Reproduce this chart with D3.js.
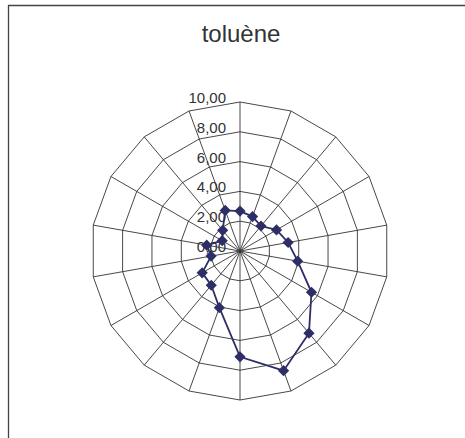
<!DOCTYPE html>
<html>
<head>
<meta charset="utf-8">
<script src="https://cdn.jsdelivr.net/npm/d3@7"></script>
<style>
  html, body { margin: 0; padding: 0; background: #fff; }
  svg { display: block; }
</style>
</head>
<body>
<svg id="chart" width="465" height="438"></svg>
<script>
// Toluene readings for 18 sampling directions, clockwise from the top
const categories = ["1","2","3","4","5","6","7","8","9","10","11","12","13","14","15","16","17","18"];
const toluene = [2.68, 2.46, 2.19, 2.83, 3.28, 3.93, 5.54, 7.20, 8.55, 7.10, 4.05, 3.00, 2.93, 1.97, 2.27, 1.38, 1.81, 2.90];
const tickValues = [0, 2, 4, 6, 8, 10];
const title = "toluène";

const svg = d3.select("#chart");
const W = 465, H = 438;
const cx = 240, cy = 251, R = 149;

// chart frame
svg.append("path")
  .attr("d", `M8.5,${H} L8.5,5.5 L${W},5.5`)
  .attr("fill", "none")
  .attr("stroke", "#444")
  .attr("stroke-width", 1.3);

svg.append("text")
  .attr("x", cx + 1).attr("y", 42)
  .attr("text-anchor", "middle")
  .attr("font-family", "Liberation Sans, Arial, sans-serif")
  .attr("font-size", 24)
  .attr("fill", "#333")
  .text(title);

const r = d3.scaleLinear().domain([0, 10]).range([0, R]);
const angle = d3.scaleLinear().domain([0, categories.length]).range([0, 2 * Math.PI]);

const g = svg.append("g").attr("transform", `translate(${cx},${cy})`);

const pt = (i, v) => [r(v) * Math.sin(angle(i)), -r(v) * Math.cos(angle(i))];

// polygonal rings
const ringLine = d3.line();
tickValues.filter(t => t > 0).forEach(t => {
  g.append("path")
    .attr("d", ringLine(categories.map((c, i) => pt(i, t))) + "Z")
    .attr("fill", "none")
    .attr("stroke", "#333")
    .attr("stroke-width", 0.9);
});

// spokes
g.selectAll("line.spoke")
  .data(categories)
  .join("line")
  .attr("class", "spoke")
  .attr("x1", 0).attr("y1", 0)
  .attr("x2", (c, i) => pt(i, 10)[0])
  .attr("y2", (c, i) => pt(i, 10)[1])
  .attr("stroke", "#333")
  .attr("stroke-width", 0.9);

// value axis labels
const locale = d3.formatLocale({ decimal: ",", thousands: " ", grouping: [3], currency: ["", " €"] });
const fmt = locale.format(".2f");
g.selectAll("text.tick")
  .data(tickValues)
  .join("text")
  .attr("class", "tick")
  .attr("x", -14)
  .attr("y", d => -r(d) + 1)
  .attr("text-anchor", "end")
  .attr("font-family", "Liberation Sans, Arial, sans-serif")
  .attr("font-size", 15)
  .attr("fill", "#333")
  .text(d => fmt(d));

// series line
const radial = d3.lineRadial()
  .angle((d, i) => angle(i))
  .radius(d => r(d))
  .curve(d3.curveLinearClosed);

g.append("path")
  .datum(toluene)
  .attr("d", radial)
  .attr("fill", "none")
  .attr("stroke", "#2e2e66")
  .attr("stroke-width", 1.8);

// diamond markers
const diamond = d3.symbol().type(d3.symbolDiamond2).size(80);
g.selectAll("path.marker")
  .data(toluene)
  .join("path")
  .attr("class", "marker")
  .attr("d", diamond)
  .attr("transform", (d, i) => `translate(${pt(i, d)[0]},${pt(i, d)[1]})`)
  .attr("fill", "#2e2e66");
</script>
</body>
</html>
